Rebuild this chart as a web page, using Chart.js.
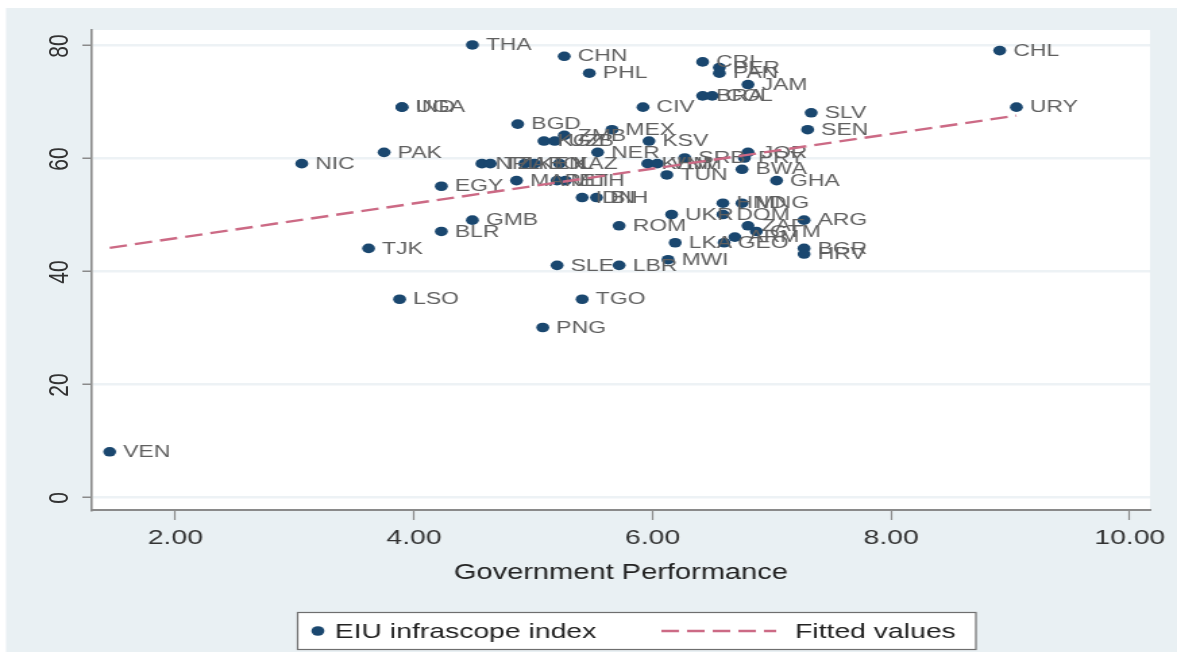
<!DOCTYPE html>
<html>
<head>
<meta charset="utf-8">
<script src="https://cdn.jsdelivr.net/npm/chart.js@4/dist/chart.umd.min.js"></script>
<style>
  html, body { margin: 0; padding: 0; background: #ffffff; overflow: hidden; }
  /* the graph is laid out on a narrower canvas and widened to the page */
  #wrap { position: relative; width: 872px; height: 652px; transform: scaleX(1.3498); transform-origin: 0 0; }
  canvas { display: block; }
  .ytick {
    position: absolute;
    font: 21px "Liberation Sans", Arial, sans-serif;
    line-height: 1;
    color: #333333;
    white-space: nowrap;
    transform: translate(-50%, -50%) rotate(-90deg);
  }
</style>
</head>
<body>
<div id="wrap"><canvas id="chart" width="872" height="652"></canvas></div>
<script>
// Country codes, government performance score and EIU infrascope index
const countries = ['THA','CHN','PHL','CHL','URY','IND','UGA','CRI','PER','PAN','JAM','BRA','COL','CIV','SLV','SEN','BGD','KGZ','UZB','ZMB','MEX','KSV','NER','NIC','PAK','NPL','TZA','KEN','BOL','KAZ','EGY','MAR','MLI','ETH','IDN','BIH','GMB','BLR','TJK','ROM','UKR','LKA','MWI','LBR','SLE','LSO','TGO','PNG','VEN','GHA','JOR','PRY','BWA','KHM','VNM','SRB','TUN','HND','MNG','DOM','ZAF','GTM','ARG','GEO','ARM','BGR','HRV'];
const govPerformance = [4.49,5.26,5.47,8.91,9.05,3.90,3.90,6.42,6.56,6.56,6.80,6.42,6.50,5.92,7.33,7.30,4.87,5.09,5.18,5.26,5.66,5.97,5.54,3.06,3.75,4.57,4.64,4.93,5.01,5.22,4.23,4.86,5.20,5.27,5.41,5.53,4.49,4.23,3.62,5.72,6.16,6.19,6.13,5.72,5.20,3.88,5.41,5.08,1.45,7.04,6.80,6.77,6.75,5.96,6.04,6.27,6.12,6.59,6.75,6.59,6.80,6.87,7.27,6.60,6.69,7.27,7.27];
const infrascope = [80,78,75,79,69,69,69,77,76,75,73,71,71,69,68,65,66,63,63,64,65,63,61,59,61,59,59,59,59,59,55,56,56,56,53,53,49,47,44,48,50,45,42,41,41,35,35,30,8,56,61,60,58,59,59,60,57,52,52,50,48,47,49,45,46,44,43];

// Linear fit, end points
const fitX = [1.45, 9.05];
const fitY = [44.1, 67.5];

// Axes
const xTickValues = [2, 4, 6, 8, 10];
const xTickLabels = ['2.00', '4.00', '6.00', '8.00', '10.00'];
const yTickValues = [0, 20, 40, 60, 80];
const yTickLabels = ['0', '20', '40', '60', '80'];
const xAxisTitle = 'Government Performance';
const legendLabels = ['EIU infrascope index', 'Fitted values'];

const NAVY = '#1a476f';
const FIT = '#cc6a85';
const OUTER = '#e9f0f3';
const DASH = [13, 6];
const FONT = '"Liberation Sans", Arial, sans-serif';

const bgPlugin = {
  id: 'regions',
  beforeDraw(chart) {
    const { ctx, chartArea: a, width, height } = chart;
    ctx.save();
    ctx.fillStyle = '#ffffff';
    ctx.fillRect(0, 0, width, height);
    ctx.fillStyle = OUTER;
    ctx.fillRect(4.5, 8, width - 4.5, height - 8);
    ctx.fillStyle = '#ffffff';
    ctx.fillRect(a.left, a.top, a.right - a.left, a.bottom - a.top);
    ctx.restore();
  }
};

const markerLabels = {
  id: 'markerLabels',
  afterDatasetDraw(chart, args) {
    if (args.index !== 0) return;
    const { ctx } = chart;
    const meta = chart.getDatasetMeta(0);
    ctx.save();
    ctx.font = '17px ' + FONT;
    ctx.fillStyle = '#606060';
    ctx.textAlign = 'left';
    ctx.textBaseline = 'middle';
    meta.data.forEach((pt, i) => {
      ctx.fillText(countries[i], pt.x + 10, pt.y + 0.5);
    });
    ctx.restore();
  }
};

const boxLegend = {
  id: 'boxLegend',
  afterDraw(chart) {
    const { ctx } = chart;
    const left = 220.5, right = 723, top = 612.5, bottom = 649.5;
    const cy = 631;
    ctx.save();
    ctx.fillStyle = '#ffffff';
    ctx.fillRect(left, top, right - left, bottom - top);
    ctx.strokeStyle = '#6e6e6e';
    ctx.lineWidth = 1.2;
    ctx.strokeRect(left, top, right - left, bottom - top);
    ctx.fillStyle = NAVY;
    ctx.beginPath();
    ctx.arc(235.5, cy, 4.8, 0, Math.PI * 2);
    ctx.fill();
    ctx.strokeStyle = FIT;
    ctx.lineWidth = 2.4;
    ctx.setLineDash(DASH);
    ctx.beginPath();
    ctx.moveTo(490, cy);
    ctx.lineTo(575, cy);
    ctx.stroke();
    ctx.setLineDash([]);
    ctx.font = '21px ' + FONT;
    ctx.fillStyle = '#222222';
    ctx.textBaseline = 'middle';
    ctx.textAlign = 'left';
    ctx.fillText(legendLabels[0], 248, cy + 1);
    ctx.fillText(legendLabels[1], 589, cy + 1);
    ctx.restore();
  }
};

const points = govPerformance.map((x, i) => ({ x, y: infrascope[i] }));
const fitPoints = fitX.map((x, i) => ({ x, y: fitY[i] }));

const chart = new Chart(document.getElementById('chart'), {
  type: 'scatter',
  data: {
    datasets: [
      {
        label: legendLabels[0],
        data: points,
        order: 2,
        pointStyle: 'circle',
        pointRadius: 4.8,
        pointHoverRadius: 4.8,
        pointBackgroundColor: NAVY,
        pointBorderColor: NAVY,
        pointBorderWidth: 0
      },
      {
        label: legendLabels[1],
        type: 'line',
        data: fitPoints,
        order: 1,
        showLine: true,
        borderColor: FIT,
        borderWidth: 2.4,
        borderDash: DASH,
        pointRadius: 0,
        fill: false,
        tension: 0
      }
    ]
  },
  options: {
    responsive: false,
    animation: false,
    layout: { padding: { top: 30, right: 20, bottom: 62, left: 0 } },
    plugins: {
      legend: { display: false },
      tooltip: { enabled: false }
    },
    scales: {
      x: {
        type: 'linear',
        min: 1.30,
        max: 10.17,
        afterBuildTicks: (s) => { s.ticks = xTickValues.map(v => ({ value: v })); },
        afterFit: (s) => { s.height = 80; },
        ticks: {
          padding: 6,
          color: '#333333',
          font: { family: FONT, size: 21 },
          maxRotation: 0,
          callback: (v) => xTickLabels[xTickValues.indexOf(v)]
        },
        grid: {
          drawOnChartArea: false,
          drawTicks: true,
          tickLength: 10,
          tickColor: '#8a8a8a',
          tickWidth: 1.2
        },
        border: { display: true, color: '#8a8a8a', width: 2 },
        title: {
          display: true,
          text: xAxisTitle,
          color: '#222222',
          font: { family: FONT, size: 21.5 },
          padding: { top: 0, bottom: 4 }
        }
      },
      y: {
        type: 'linear',
        min: -2.3,
        max: 82.65,
        afterBuildTicks: (s) => { s.ticks = yTickValues.map(v => ({ value: v })); },
        afterFit: (s) => { s.width = 68; },
        ticks: { display: false },
        grid: {
          color: '#edf2f5',
          lineWidth: 2.5,
          drawTicks: true,
          tickLength: 7,
          tickColor: '#8a8a8a',
          tickWidth: 1.5
        },
        border: { display: true, color: '#8a8a8a', width: 1.6 }
      }
    }
  },
  plugins: [bgPlugin, markerLabels, boxLegend]
});

// y tick labels set vertically beside the axis, placed from the y scale
const wrap = document.getElementById('wrap');
yTickValues.forEach((v, i) => {
  const el = document.createElement('div');
  el.className = 'ytick';
  el.textContent = yTickLabels[i];
  el.style.left = '43px';
  el.style.top = (chart.scales.y.getPixelForValue(v) + 1) + 'px';
  wrap.appendChild(el);
});
</script>
</body>
</html>
